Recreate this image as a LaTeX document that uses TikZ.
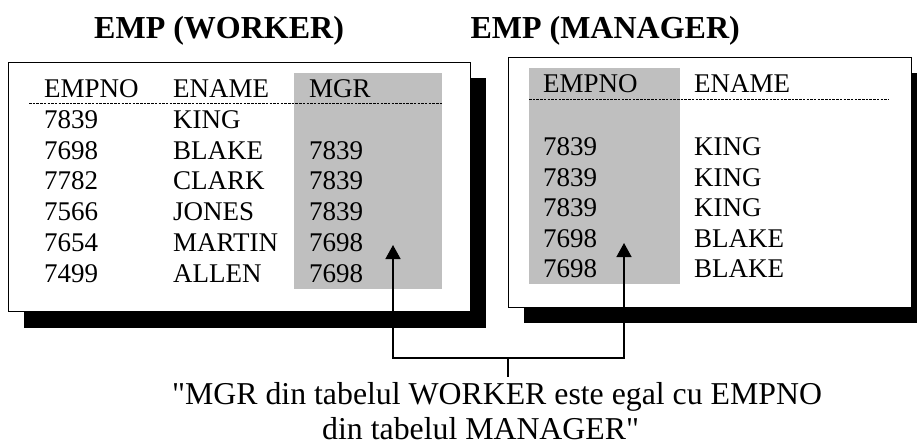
\documentclass[tikz,border=0pt]{standalone}
\usepackage{fontspec}
\setmainfont{Liberation Serif}[Ligatures=TeXOff]
\usetikzlibrary{arrows.meta}
\begin{document}
\begin{tikzpicture}[x=1pt,y=-1pt,
  cell/.style={anchor=base west, inner sep=0pt, font=\fontsize{27}{30}\selectfont},
  heading/.style={inner sep=0pt, font=\fontsize{32}{36}\selectfont\bfseries},
  note/.style={anchor=base west, inner sep=0pt, font=\fontsize{31.8}{38}\selectfont},
  panel/.style={draw=black, line width=1.2pt, fill=white, anchor=north west, inner sep=0pt},
  shadowbox/.style={fill=black, draw=none, anchor=north west, inner sep=0pt},
  column/.style={fill=black!25, draw=none, anchor=north west, inner sep=0pt},
  sep/.style={dash pattern=on 2.5pt off 1.2pt, line width=0.9pt},
  link/.style={line width=1.5pt},
  linkarrow/.style={link, -{Triangle[width=15pt,length=14pt]}}
]
\useasboundingbox (0,0) rectangle (917,445);

% titles
\node[heading, anchor=base west] (tworker) at (94,38) {EMP (WORKER)};
\node[heading, anchor=base east] (tmanager) at (740,38) {EMP (MANAGER)};

% ---- WORKER table ----
\node[shadowbox, minimum width=462pt, minimum height=250pt] (wshadow) at (24,78) {};
\node[panel, minimum width=462pt, minimum height=249pt] (worker) at (8,62) {};
\node[column, minimum width=148pt, minimum height=216pt] (mgrcol) at (294,73) {};
\coordinate (wsepL) at (29,103);
\coordinate (wsepR) at (442,103);
\draw[sep] (wsepL) -- (wsepR);

\node[cell] (wh1) at (44,97) {EMPNO};
\node[cell] (wh2) at (173,97) {ENAME};
\node[cell] (wh3) at (309,97) {MGR};

\node[cell] (w11) at (44,128) {7839};
\node[cell] (w12) at (173,128) {KING};

\node[cell] (w21) at (44,159) {7698};
\node[cell] (w22) at (173,159) {BLAKE};
\node[cell] (w23) at (309,159) {7839};

\node[cell] (w31) at (44,189) {7782};
\node[cell] (w32) at (173,189) {CLARK};
\node[cell] (w33) at (309,189) {7839};

\node[cell] (w41) at (44,220) {7566};
\node[cell] (w42) at (173,220) {JONES};
\node[cell] (w43) at (309,220) {7839};

\node[cell] (w51) at (44,251) {7654};
\node[cell] (w52) at (173,251) {MARTIN};
\node[cell] (w53) at (309,251) {7698};

\node[cell] (w61) at (44,282) {7499};
\node[cell] (w62) at (173,282) {ALLEN};
\node[cell] (w63) at (309,282) {7698};

% ---- MANAGER table ----
\node[shadowbox, minimum width=393pt, minimum height=250pt] (mshadow) at (524,73) {};
\node[panel, minimum width=403pt, minimum height=250pt] (manager) at (508,57) {};
\node[column, minimum width=151pt, minimum height=216pt] (empcol) at (529,68) {};
\coordinate (msepL) at (529,99);
\coordinate (msepR) at (888,99);
\draw[sep] (msepL) -- (msepR);

\node[cell] (mh1) at (543,92) {EMPNO};
\node[cell] (mh2) at (694,92) {ENAME};

\node[cell] (m11) at (543,155) {7839};
\node[cell] (m12) at (694,155) {KING};
\node[cell] (m21) at (543,186) {7839};
\node[cell] (m22) at (694,186) {KING};
\node[cell] (m31) at (543,216) {7839};
\node[cell] (m32) at (694,216) {KING};
\node[cell] (m41) at (543,247) {7698};
\node[cell] (m42) at (694,247) {BLAKE};
\node[cell] (m51) at (543,277) {7698};
\node[cell] (m52) at (694,277) {BLAKE};

% ---- join condition ----
\node[note] (note1) at (172,404) {"MGR din tabelul WORKER este egal cu EMPNO};
\node[note] (note2) at (322,439) {din tabelul MANAGER"};

\coordinate (wtip) at (393,245);
\coordinate (mtip) at (624,243);
\coordinate (join) at (508,358);
\coordinate (stub) at (508,377);
\draw[linkarrow] (join) -| (wtip);
\draw[linkarrow] (join) -| (mtip);
\draw[link] (join) -- (stub);
\end{tikzpicture}
\end{document}
